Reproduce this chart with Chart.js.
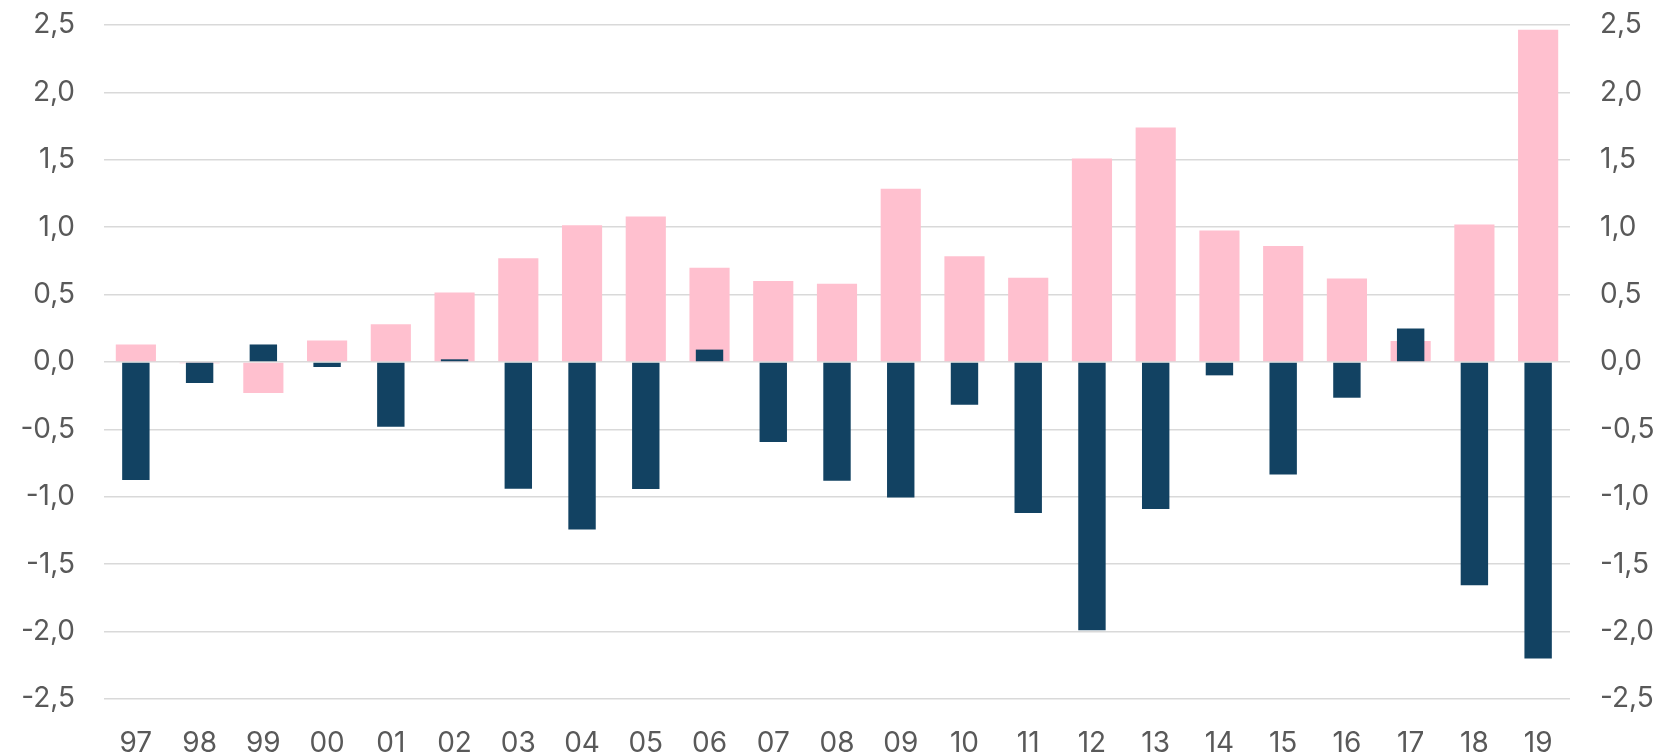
<!DOCTYPE html>
<html>
<head>
  <title>Bars</title>
  <script src="https://cdn.jsdelivr.net/npm/chart.js"></script>
  <style>
    body { margin: 0; background: #fff; }
    #wrap { width: 1665px; height: 754px; }
  </style>
</head>
<body>
<div id="wrap"><canvas id="chart"></canvas></div>
<script>
  const years = ["97","98","99","00","01","02","03","04","05","06","07","08","09","10","11","12","13","14","15","16","17","18","19"];
  const pinkValues = [0.13, -0.01, -0.23, 0.16, 0.28, 0.515, 0.77, 1.015, 1.08, 0.70, 0.60, 0.58, 1.285, 0.785, 0.625, 1.51, 1.74, 0.975, 0.86, 0.62, 0.156, 1.02, 2.465];
  const navyValues = [-0.876, -0.156, 0.13, -0.037, -0.48, 0.02, -0.94, -1.243, -0.943, 0.092, -0.594, -0.881, -1.005, -0.317, -1.12, -1.99, -1.09, -0.099, -0.834, -0.265, 0.248, -1.656, -2.2];
  const axisMin = -2.5, axisMax = 2.5, axisStep = 0.5;

  const fmt = v => v.toFixed(1).replace(".", ",");
  const tickFont = { family: "Inter, 'Noto Sans', sans-serif", size: 28 };

  // fixed axis widths; drop the label overhang padding so the plot can reach the top
  const fitY = w => s => { s.width = w; s.paddingTop = 0; s.paddingBottom = 0; };

  new Chart(document.getElementById("chart"), {
    type: "bar",
    data: {
      labels: years,
      datasets: [
        {
          data: navyValues,
          backgroundColor: "#124262",
          order: 0,
          grouped: false,
          categoryPercentage: 1,
          barPercentage: 0.43
        },
        {
          data: pinkValues,
          backgroundColor: "#ffc0cf",
          order: 1,
          grouped: false,
          categoryPercentage: 1,
          barPercentage: 0.63
        }
      ]
    },
    options: {
      responsive: true,
      maintainAspectRatio: false,
      animation: false,
      layout: { padding: { top: 25, bottom: 0, left: 0, right: 0 } },
      plugins: { legend: { display: false }, tooltip: { enabled: false } },
      scales: {
        x: {
          grid: { display: false, drawTicks: false },
          border: { display: false },
          ticks: { color: "#595959", font: tickFont, padding: 28, maxRotation: 0 },
          afterFit: s => { s.height = 55; }
        },
        y: {
          position: "left",
          min: axisMin, max: axisMax,
          grid: { color: "#d9d9d9", lineWidth: 1.5, drawTicks: false },
          border: { display: false },
          ticks: { stepSize: axisStep, color: "#595959", font: tickFont, padding: 29, callback: fmt },
          afterFit: fitY(104)
        },
        y2: {
          position: "right",
          min: axisMin, max: axisMax,
          grid: { display: false, drawTicks: false },
          border: { display: false },
          ticks: { stepSize: axisStep, color: "#595959", font: tickFont, padding: 30, callback: fmt },
          afterFit: fitY(95)
        }
      }
    }
  });
</script>
</body>
</html>
